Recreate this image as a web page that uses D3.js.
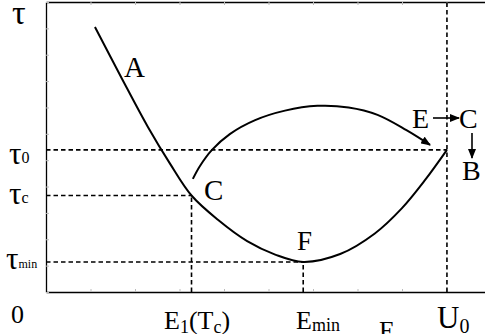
<!DOCTYPE html>
<html>
<head>
<meta charset="utf-8">
<script src="https://cdn.jsdelivr.net/npm/d3@7"></script>
<style>
  body { margin: 0; background: #fff; }
  svg { display: block; }
  text { font-family: 'Liberation Serif', 'Times New Roman', serif; fill: #000; }
  .greek { font-family: 'Liberation Serif', 'DejaVu Serif', serif; }
</style>
</head>
<body>
<svg id="chart" width="485" height="334"></svg>
<script>
// lower curve A -> C -> F -> U0 (energy E, stress tau), in grid units
var lowerE = [1.10, 1.71, 2.29, 2.79, 3.27, 3.87, 4.52, 5.15, 5.78, 6.61, 7.39, 8.00, 8.52, 9.01]
var lowerTau = [10.05, 8.08, 6.26, 4.86, 3.66, 2.73, 1.93, 1.42, 1.14, 1.44, 2.22, 3.18, 4.25, 5.39]

// upper arc from C back towards U0
var upperE = [3.30, 3.46, 3.73, 4.13, 4.70, 5.37, 6.10, 6.80, 7.45, 8.10, 8.63]
var upperTau = [4.29, 4.78, 5.39, 5.99, 6.52, 6.88, 7.06, 7.00, 6.72, 6.14, 5.58]

// reference levels
var tauLevels = [5.39, 3.66, 1.14] // tau0, tauc, taumin
var eLevels = [9.01, 3.27, 5.78] // U0, E1(Tc), Emin

var svg = d3.select('#chart')

var x = d3.scaleLinear().domain([0, 10]).range([46, 491])
var y = d3.scaleLinear().domain([0, 11]).range([292, 2])

/**
 * style a frame axis: black line, light inner ticks, no labels
 */
function frame (sel) {
  sel.select('.domain').attr('stroke', '#000').attr('stroke-width', 1.3)
  sel.selectAll('.tick line').attr('stroke', '#bbb')
  sel.selectAll('.tick text').remove()
}

svg.append('g').attr('transform', 'translate(0,292)')
  .call(d3.axisTop(x).ticks(10).tickSize(3).tickSizeOuter(0).tickFormat(''))
  .call(frame)
svg.append('g').attr('transform', 'translate(0,2)')
  .call(d3.axisBottom(x).ticks(10).tickSize(3).tickSizeOuter(0).tickFormat(''))
  .call(frame)
svg.append('g').attr('transform', 'translate(46,0)')
  .call(d3.axisRight(y).ticks(11).tickSize(3).tickSizeOuter(0).tickFormat(''))
  .call(frame)

// dashed guide lines
var dash = svg.append('g')
  .attr('stroke', '#000')
  .attr('stroke-width', 1.6)
  .attr('stroke-dasharray', '4.5,3')
  .attr('fill', 'none')

var hLines = [
  { tau: tauLevels[0], e: eLevels[0] },
  { tau: tauLevels[1], e: eLevels[1] },
  { tau: tauLevels[2], e: eLevels[2] }
]
dash.selectAll('.h').data(hLines).enter().append('line')
  .attr('x1', x(0)).attr('x2', d => x(d.e))
  .attr('y1', d => y(d.tau)).attr('y2', d => y(d.tau))

var vLines = [
  { e: eLevels[0], tau: 11.1 },
  { e: eLevels[1], tau: tauLevels[1] },
  { e: eLevels[2], tau: tauLevels[2] }
]
dash.selectAll('.v').data(vLines).enter().append('line')
  .attr('x1', d => x(d.e)).attr('x2', d => x(d.e))
  .attr('y1', y(0)).attr('y2', d => y(d.tau))

// arrow marker
var defs = svg.append('defs')
defs.append('marker')
  .attr('id', 'head')
  .attr('viewBox', '0 0 10 8')
  .attr('refX', 9).attr('refY', 4)
  .attr('markerWidth', 10).attr('markerHeight', 8)
  .attr('markerUnits', 'userSpaceOnUse')
  .attr('orient', 'auto')
  .append('path').attr('d', 'M0,0L10,4L0,8Z').attr('fill', '#000')

var line = d3.line()
  .x(d => x(d[0]))
  .y(d => y(d[1]))
  .curve(d3.curveCatmullRom.alpha(0.5))

svg.append('path')
  .datum(d3.zip(lowerE, lowerTau))
  .attr('d', line)
  .attr('fill', 'none').attr('stroke', '#000').attr('stroke-width', 2)

svg.append('path')
  .datum(d3.zip(upperE, upperTau))
  .attr('d', line)
  .attr('fill', 'none').attr('stroke', '#000').attr('stroke-width', 2)
  .attr('marker-end', 'url(#head)')

// E -> C and C -> B arrows
svg.append('line')
  .attr('x1', 433).attr('y1', 118).attr('x2', 459).attr('y2', 118)
  .attr('stroke', '#000').attr('stroke-width', 1.6).attr('marker-end', 'url(#head)')
svg.append('line')
  .attr('x1', 472).attr('y1', 133).attr('x2', 472).attr('y2', 158)
  .attr('stroke', '#000').attr('stroke-width', 1.6).attr('marker-end', 'url(#head)')

/**
 * add a label made of parts [text, size, dy, class]
 */
function label (px, py, parts) {
  var t = svg.append('text').attr('x', px).attr('y', py)
  parts.forEach(function (p) {
    t.append('tspan').attr('font-size', p[1]).attr('dy', p[2] || 0)
      .attr('class', p[3] || null).text(p[0])
  })
}

// y labels
label(12, 24, [['τ', 34, 0, 'greek']])
label(9, 164, [['τ', 31, 0, 'greek'], ['0', 16, -1]])
label(9, 204, [['τ', 31, 0, 'greek'], ['c', 16, -1]])
label(6, 269, [['τ', 31, 0, 'greek'], ['min', 12, -1]])
label(11, 323, [['0', 26]])

// x labels
label(164, 329, [['E', 26], ['1', 18, 4], ['(T', 26, -4], ['c', 18, 4], [')', 26, -4]])
label(296, 329, [['E', 26], ['min', 18, 2]])
label(379, 339, [['E', 26]])
label(437, 328, [['U', 31], ['0', 20, 5]])

// curve letters
label(124, 77, [['A', 29]])
label(204, 200, [['C', 29]])
label(297, 250, [['F', 27]])
label(412, 128, [['E', 28]])
label(459, 128, [['C', 28]])
label(462, 180, [['B', 28]])
</script>
</body>
</html>
